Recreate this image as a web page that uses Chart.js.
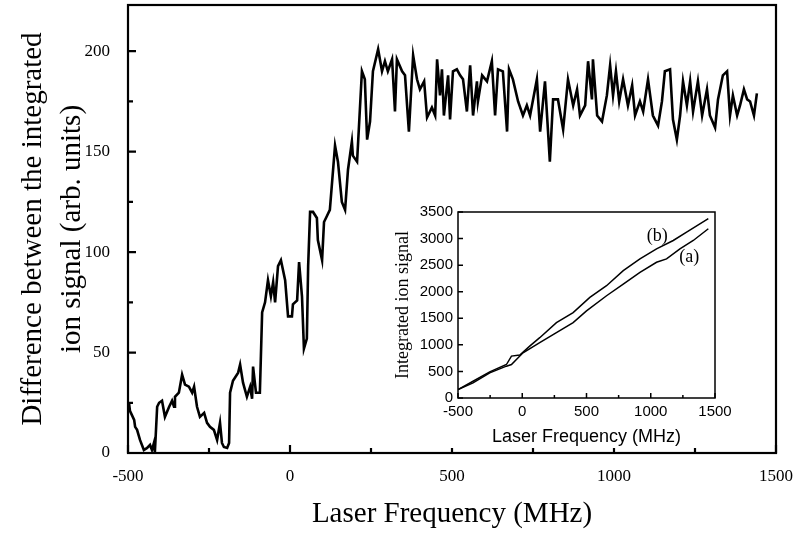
<!DOCTYPE html>
<html>
<head>
<meta charset="utf-8">
<script src="https://cdn.jsdelivr.net/npm/chart.js@4.4.1/dist/chart.umd.min.js"></script>
<style>
  html, body { margin: 0; padding: 0; background: #fff; }
  #wrap { position: relative; width: 798px; height: 540px; }
  #mainChart { position: absolute; left: 0; top: 0; }
  #insetChart { position: absolute; left: 385px; top: 203px; background: #fff; }
</style>
</head>
<body>
<div id="wrap">
  <canvas id="mainChart" width="798" height="540"></canvas>
  <canvas id="insetChart" width="360" height="245"></canvas>
</div>
<script>
// main trace: difference between integrated ion signals
const mainFreq = [-497,-494,-481,-478,-472,-463,-451,-441,-432,-426,-420,-417,-410,-404,-395,-386,-373,-364,-358,-355,
  -343,-333,-324,-312,-302,-296,-287,-278,-265,-256,-247,-235,-225,-216,-210,-204,-194,-188,-185,-176,
  -160,-154,-145,-133,-123,-117,-114,-105,-93,-86,-77,-68,-59,-52,-46,-37,-28,-15,-6,6,
  9,22,28,37,43,52,56,62,71,83,86,99,105,114,123,139,148,160,170,179,
  191,194,207,222,231,238,247,256,272,284,293,302,315,324,330,346,355,367,380,392,
  401,414,423,438,448,454,463,469,475,488,494,503,515,525,534,546,556,565,577,580,
  593,608,623,633,642,657,670,676,688,704,719,731,741,762,772,787,802,812,827,843,
  858,874,886,895,911,920,932,935,948,963,978,988,997,1006,1016,1028,1043,1056,1065,1080,
  1090,1105,1120,1136,1148,1157,1173,1182,1194,1204,1213,1225,1235,1244,1259,1272,1287,1296,1312,1321,
  1336,1349,1358,1367,1380,1389,1401,1411,1420,1432,1441];
const mainSignal = [25,21,16.5,13,11.5,6.5,1.5,2.5,4,1.5,5,0.5,23,25,26,18,23,26,23,28,
  30,39,34,33,30,33,23,18,20,15,13,11.5,6.5,15,5,3,2.5,5,30,36,
  40,44,35,28,33,27,43,30,30,70,75,86,78,85,75,93,96,86,68,68,
  74,76,95,78,52,57,93,120,120,117,106,96,115,118,121,153,145,125,121,141,
  155,148,145,190,186,156,165,190,201,190,195,190,196,170,196,190,188,160,198,186,
  181,185,167,172,168,196,178,191,168,188,166,190,191,188,186,170,193,168,185,175,
  188,185,195,168,191,190,160,191,186,175,168,173,168,186,160,185,145,176,176,161,
  186,173,181,168,173,195,176,196,168,165,178,193,178,190,175,186,173,183,168,175,
  170,186,168,163,175,190,191,166,156,168,185,173,185,170,185,168,181,168,162,176,
  188,190,168,178,168,173,181,176,175,168,179];

// inset: integrated ion signal, curves (a) and (b)
const insetFreqA = [-500,-383,-253,-123,-84,6,136,266,396,500,656,786,916,1045,1123,1227,1331,1448];
const insetA = [157,284,473,599,630,851,1040,1230,1419,1640,1924,2144,2365,2554,2617,2806,2964,3185];
const insetFreqB = [-500,-383,-253,-123,-84,-19,58,136,266,396,526,656,786,916,1045,1175,1279,1448];
const insetB = [157,315,492,630,788,807,977,1135,1419,1608,1892,2113,2397,2617,2806,2964,3121,3374];
const insetLabels = [{text: '(b)', x: 1050, y: 3050}, {text: '(a)', x: 1300, y: 2650}];

const freqTicks = [-500, 0, 500, 1000, 1500];
const freqMinor = [-250, 250, 750, 1250];
const mainYTicks = [0, 50, 100, 150, 200];
const mainYMinor = [25, 75, 125, 175];
const insetYTicks = [0, 500, 1000, 1500, 2000, 2500, 3000, 3500];

function toPoints(xs, ys) {
    return xs.map((x, i) => ({ x: x, y: ys[i] }));
}

function fixBox(size, isX) {
    return s => {
        if (isX) s.height = size; else s.width = size;
        s.paddingTop = 0; s.paddingBottom = 0;
        s.paddingLeft = 0; s.paddingRight = 0;
    };
}

// box around plot area plus inward tick marks
const framePlugin = {
    id: 'frame',
    afterDatasetsDraw(chart, args, opts) {
        const { ctx, chartArea: a, scales: { x, y } } = chart;
        ctx.save();
        ctx.strokeStyle = '#000';
        ctx.lineWidth = opts.lineWidth;
        ctx.strokeRect(a.left, a.top, a.right - a.left, a.bottom - a.top);
        ctx.beginPath();
        opts.xMajor.forEach(v => {
            const px = x.getPixelForValue(v);
            ctx.moveTo(px, a.bottom); ctx.lineTo(px, a.bottom - opts.major);
        });
        opts.xMinor.forEach(v => {
            const px = x.getPixelForValue(v);
            ctx.moveTo(px, a.bottom); ctx.lineTo(px, a.bottom - opts.minor);
        });
        opts.yMajor.forEach(v => {
            const py = y.getPixelForValue(v);
            ctx.moveTo(a.left, py); ctx.lineTo(a.left + opts.major, py);
        });
        opts.yMinor.forEach(v => {
            const py = y.getPixelForValue(v);
            ctx.moveTo(a.left, py); ctx.lineTo(a.left + opts.minor, py);
        });
        ctx.stroke();
        (opts.labels || []).forEach(l => {
            ctx.fillStyle = '#000';
            ctx.font = opts.labelFont;
            ctx.textAlign = 'center';
            ctx.textBaseline = 'middle';
            ctx.fillText(l.text, x.getPixelForValue(l.x), y.getPixelForValue(l.y));
        });
        ctx.restore();
    }
};

const plain = v => String(v);

new Chart(document.getElementById('mainChart').getContext('2d'), {
    type: 'line',
    data: {
        datasets: [{
            data: toPoints(mainFreq, mainSignal),
            borderColor: '#000',
            borderWidth: 2.6,
            pointRadius: 0,
            tension: 0,
            fill: false
        }]
    },
    options: {
        responsive: false,
        animation: false,
        layout: { padding: { left: 0, right: 22, top: 5, bottom: 0 } },
        plugins: {
            legend: { display: false },
            tooltip: { enabled: false },
            frame: {
                lineWidth: 2.2, major: 8, minor: 5,
                xMajor: freqTicks, xMinor: freqMinor,
                yMajor: mainYTicks, yMinor: mainYMinor
            }
        },
        scales: {
            x: {
                type: 'linear',
                min: -500, max: 1500,
                afterBuildTicks: s => { s.ticks = freqTicks.map(v => ({ value: v })); },
                afterFit: fixBox(87, true),
                grid: { display: false, drawTicks: false },
                border: { display: false },
                ticks: { color: '#000', padding: 13, maxRotation: 0, callback: plain, font: { family: 'Liberation Serif', size: 17 } },
                title: {
                    display: true, text: 'Laser Frequency (MHz)', color: '#000',
                    padding: { top: 0, bottom: 8 },
                    font: { family: 'Liberation Serif', size: 29, lineHeight: 1.2 }
                }
            },
            y: {
                min: 0, max: 223,
                afterBuildTicks: s => { s.ticks = mainYTicks.map(v => ({ value: v })); },
                afterFit: fixBox(128, false),
                grid: { display: false, drawTicks: false },
                border: { display: false },
                ticks: { color: '#000', padding: 18, callback: plain, font: { family: 'Liberation Serif', size: 17 } },
                title: {
                    display: true, text: ['Difference between the integrated', 'ion signal (arb. units)'], color: '#000',
                    padding: { top: 14, bottom: 0 },
                    font: { family: 'Liberation Serif', size: 29, lineHeight: 1.35 }
                }
            }
        }
    },
    plugins: [framePlugin]
});

new Chart(document.getElementById('insetChart').getContext('2d'), {
    type: 'line',
    data: {
        datasets: [{
            data: toPoints(insetFreqA, insetA),
            borderColor: '#000', borderWidth: 1.5, pointRadius: 0, tension: 0, fill: false
        }, {
            data: toPoints(insetFreqB, insetB),
            borderColor: '#000', borderWidth: 1.5, pointRadius: 0, tension: 0, fill: false
        }]
    },
    options: {
        responsive: false,
        animation: false,
        layout: { padding: { left: 0, right: 30, top: 9, bottom: 0 } },
        plugins: {
            legend: { display: false },
            tooltip: { enabled: false },
            frame: {
                lineWidth: 1.5, major: 5, minor: 3,
                xMajor: freqTicks, xMinor: freqMinor,
                yMajor: insetYTicks, yMinor: [],
                labels: insetLabels,
                labelFont: '18px "Liberation Serif"'
            }
        },
        scales: {
            x: {
                type: 'linear',
                min: -500, max: 1500,
                afterBuildTicks: s => { s.ticks = freqTicks.map(v => ({ value: v })); },
                afterFit: fixBox(50, true),
                grid: { display: false, drawTicks: false },
                border: { display: false },
                ticks: { color: '#000', padding: 5, maxRotation: 0, callback: plain, font: { family: 'Liberation Sans', size: 15 } },
                title: {
                    display: true, text: 'Laser Frequency (MHz)', color: '#000',
                    padding: { top: 0, bottom: 0 },
                    font: { family: 'Liberation Sans', size: 18, lineHeight: 1.2 }
                }
            },
            y: {
                min: 0, max: 3500,
                afterBuildTicks: s => { s.ticks = insetYTicks.map(v => ({ value: v })); },
                afterFit: fixBox(73, false),
                grid: { display: false, drawTicks: false },
                border: { display: false },
                ticks: { color: '#000', padding: 5, callback: plain, font: { family: 'Liberation Sans', size: 15 } },
                title: {
                    display: true, text: 'Integrated ion signal', color: '#000',
                    padding: { top: 7, bottom: 0 },
                    font: { family: 'Liberation Serif', size: 18, lineHeight: 1.2 }
                }
            }
        }
    },
    plugins: [framePlugin]
});
</script>
</body>
</html>
